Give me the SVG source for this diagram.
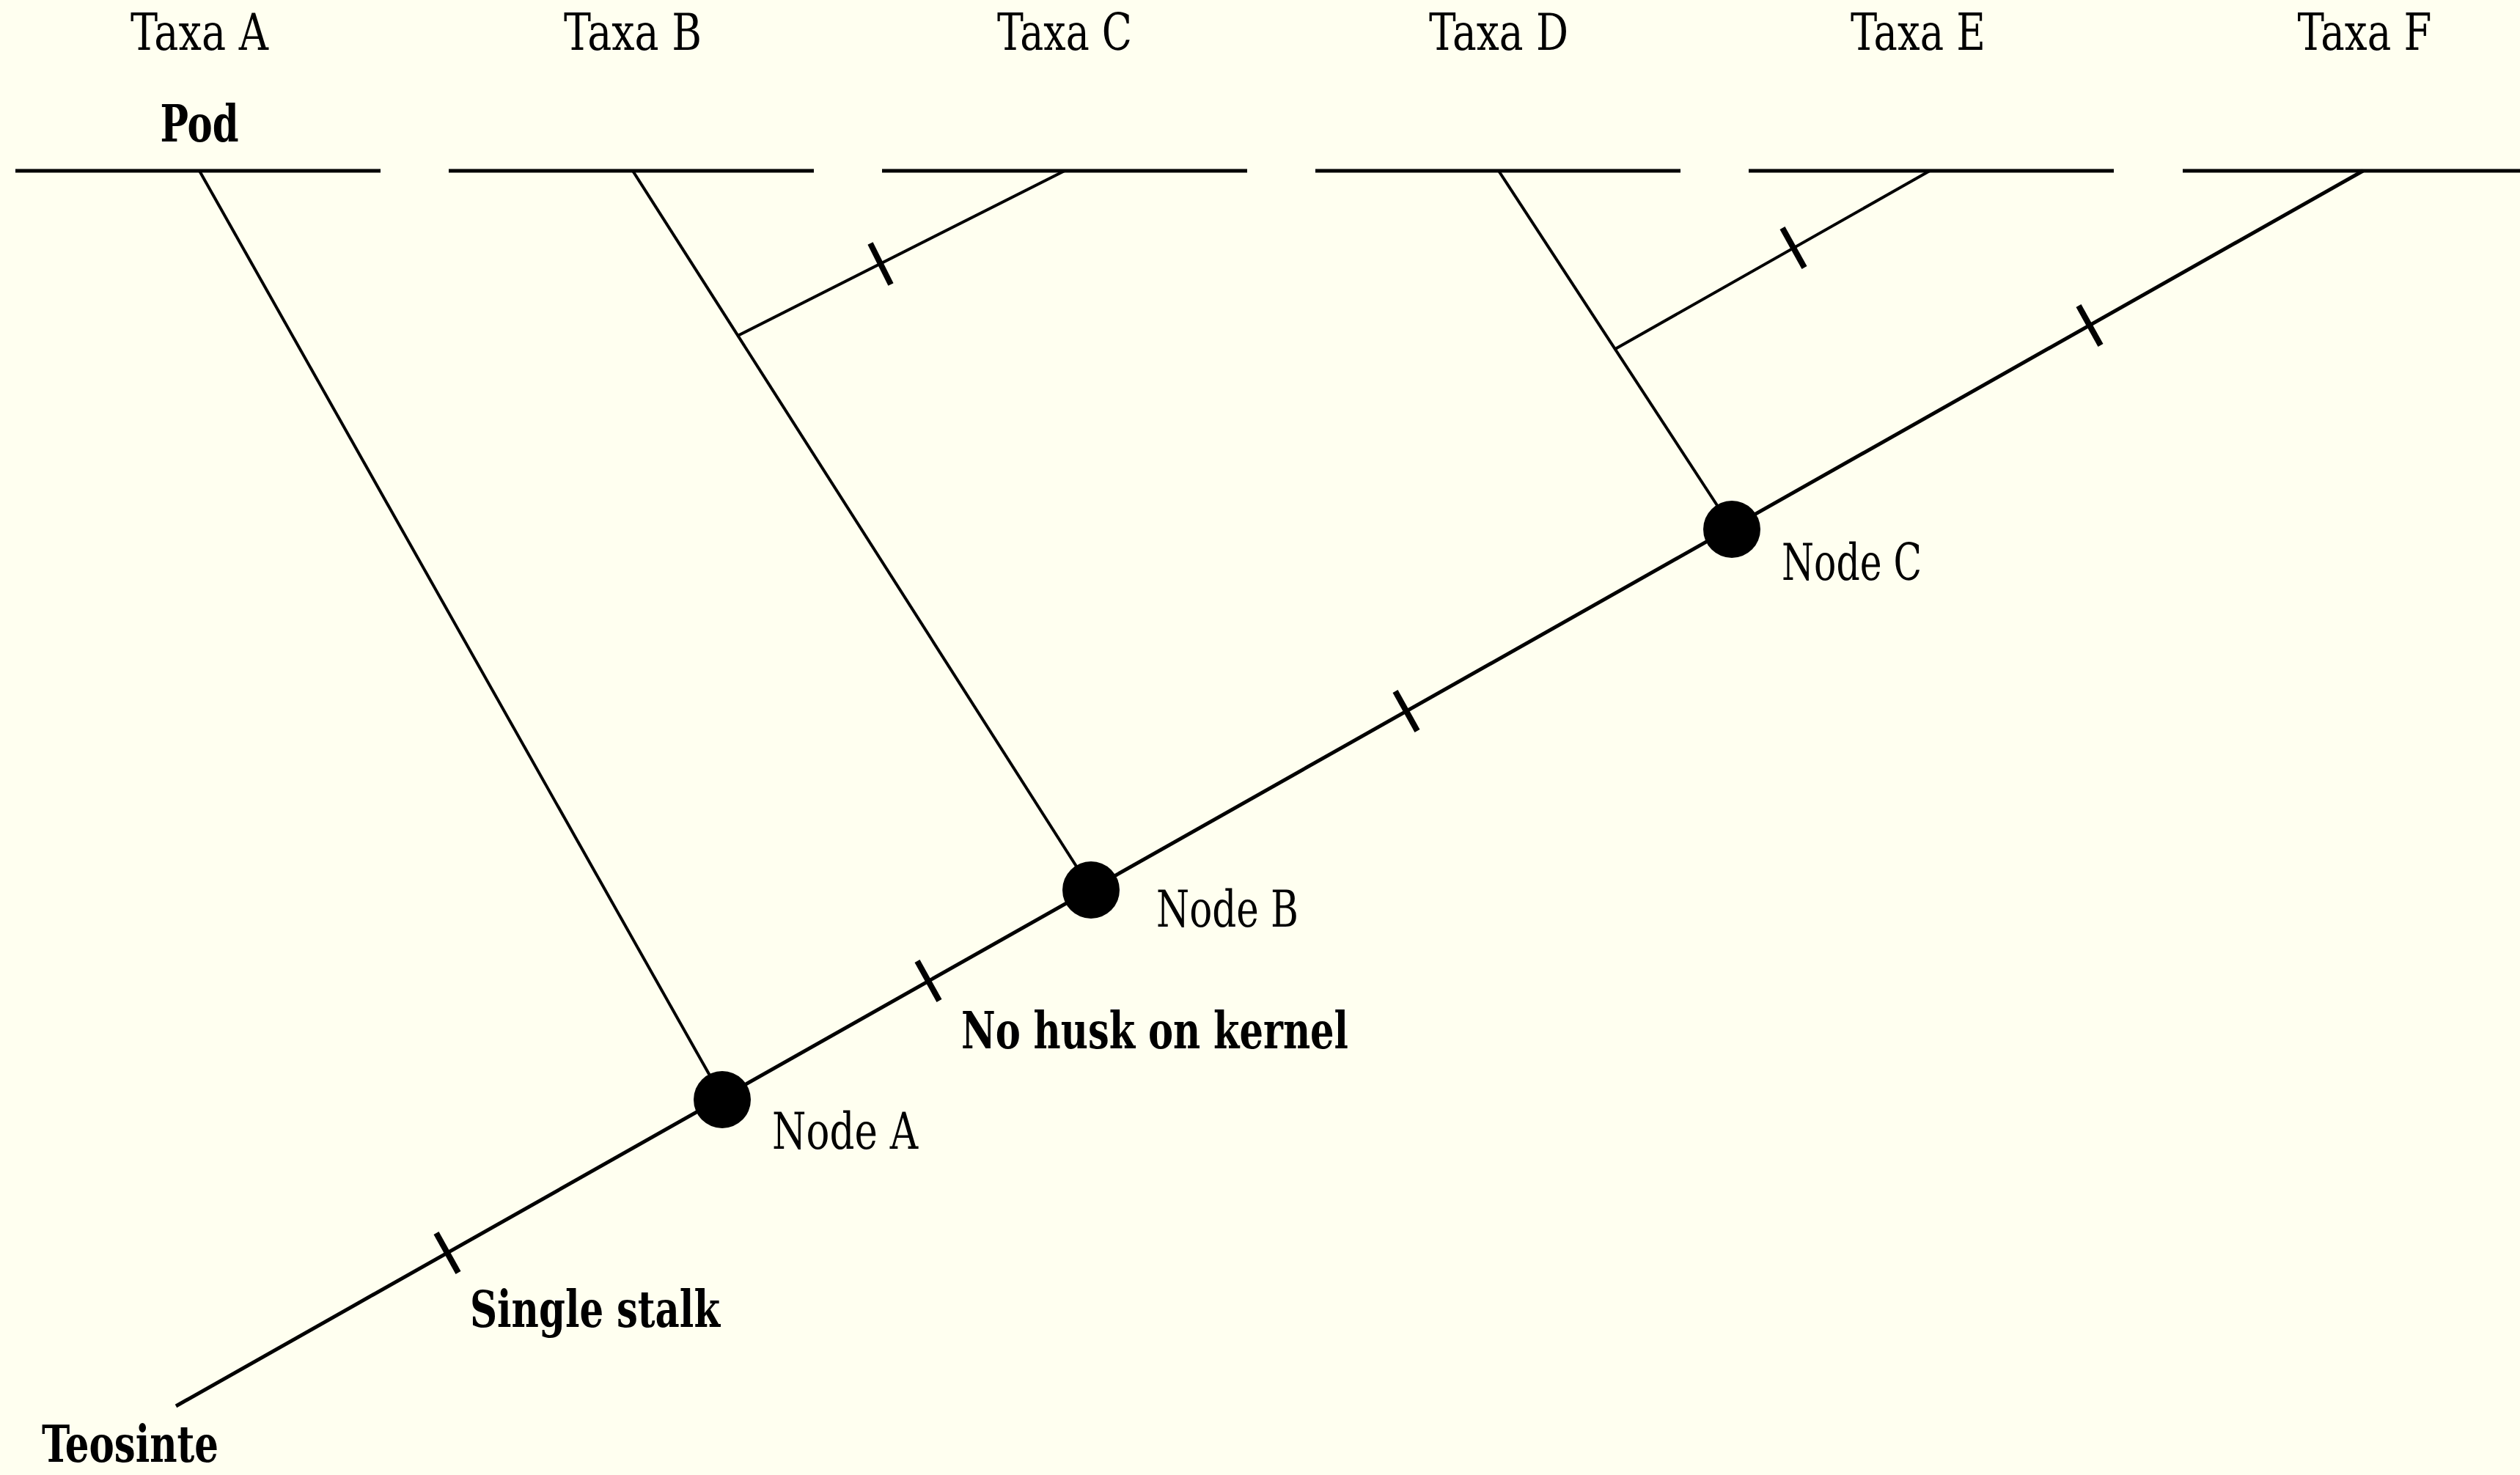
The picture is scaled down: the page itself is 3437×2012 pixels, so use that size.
<svg xmlns="http://www.w3.org/2000/svg" width="3437" height="2012" viewBox="0 0 3437 2012">
<style>
.bg{fill:#FFFFF0}
.t{font-family:"DejaVu Serif Condensed","DejaVu Serif","Liberation Serif",serif;font-stretch:condensed;font-size:70px;fill:#000}
.b{font-weight:bold}
.tip{stroke:#000;stroke-width:5;fill:none}
.br{stroke:#000;stroke-width:4;fill:none;stroke-linecap:butt}
.main{stroke:#000;stroke-width:5;fill:none}
.tick{stroke:#000;stroke-width:8;fill:none}
.node{fill:#000}
</style>
<rect class="bg" x="0" y="0" width="3437" height="2012"/>
<g id="connectors">
<line class="tip" x1="21" y1="233" x2="519" y2="233"/>
<line class="tip" x1="612" y1="233" x2="1110" y2="233"/>
<line class="tip" x1="1203" y1="233" x2="1701" y2="233"/>
<line class="tip" x1="1794" y1="233" x2="2292" y2="233"/>
<line class="tip" x1="2385" y1="233" x2="2883" y2="233"/>
<line class="tip" x1="2977" y1="233" x2="3437" y2="233"/>
<line class="main" x1="240" y1="1918" x2="3223" y2="233"/>
<line class="br" x1="272" y1="233" x2="985" y2="1497"/>
<line class="br" x1="863" y1="233" x2="1488" y2="1213"/>
<line class="br" x1="1452" y1="233" x2="1006" y2="458"/>
<line class="br" x1="2044" y1="233" x2="2362" y2="720"/>
<line class="br" x1="2632" y1="233" x2="2203" y2="476"/>
<line class="tick" x1="1187" y1="332" x2="1215" y2="388"/>
<line class="tick" x1="2431" y1="311" x2="2461" y2="365"/>
<line class="tick" x1="595" y1="1682" x2="625" y2="1736"/>
<line class="tick" x1="1251" y1="1311" x2="1281" y2="1365"/>
<line class="tick" x1="1903" y1="943" x2="1933" y2="997"/>
<line class="tick" x1="2835" y1="417" x2="2865" y2="471"/>
</g>
<g id="taxa-a"><text class="t" x="272" y="68" text-anchor="middle" textLength="188" lengthAdjust="spacingAndGlyphs">Taxa A</text></g>
<g id="taxa-b"><text class="t" x="863" y="68" text-anchor="middle" textLength="188" lengthAdjust="spacingAndGlyphs">Taxa B</text></g>
<g id="taxa-c"><text class="t" x="1452" y="68" text-anchor="middle" textLength="184" lengthAdjust="spacingAndGlyphs">Taxa C</text></g>
<g id="taxa-d"><text class="t" x="2044" y="68" text-anchor="middle" textLength="190" lengthAdjust="spacingAndGlyphs">Taxa D</text></g>
<g id="taxa-e"><text class="t" x="2616" y="68" text-anchor="middle" textLength="184" lengthAdjust="spacingAndGlyphs">Taxa E</text></g>
<g id="taxa-f"><text class="t" x="3225" y="68" text-anchor="middle" textLength="183" lengthAdjust="spacingAndGlyphs">Taxa F</text></g>
<g id="pod"><text class="t b" x="272" y="193" text-anchor="middle" textLength="107" lengthAdjust="spacingAndGlyphs">Pod</text></g>
<g id="node-a"><circle class="node" cx="985" cy="1500" r="39"/><text class="t" x="1053" y="1567" textLength="199" lengthAdjust="spacingAndGlyphs">Node A</text></g>
<g id="node-b"><circle class="node" cx="1488" cy="1214" r="39"/><text class="t" x="1577" y="1264" textLength="194" lengthAdjust="spacingAndGlyphs">Node B</text></g>
<g id="node-c"><circle class="node" cx="2362" cy="722" r="39"/><text class="t" x="2430" y="791" textLength="191" lengthAdjust="spacingAndGlyphs">Node C</text></g>
<g id="no-husk"><text class="t b" x="1311" y="1430" textLength="528" lengthAdjust="spacingAndGlyphs">No husk on kernel</text></g>
<g id="single-stalk"><text class="t b" x="641" y="1810" textLength="341" lengthAdjust="spacingAndGlyphs">Single stalk</text></g>
<g id="teosinte"><text class="t b" x="57" y="1994" textLength="241" lengthAdjust="spacingAndGlyphs">Teosinte</text></g>
</svg>
